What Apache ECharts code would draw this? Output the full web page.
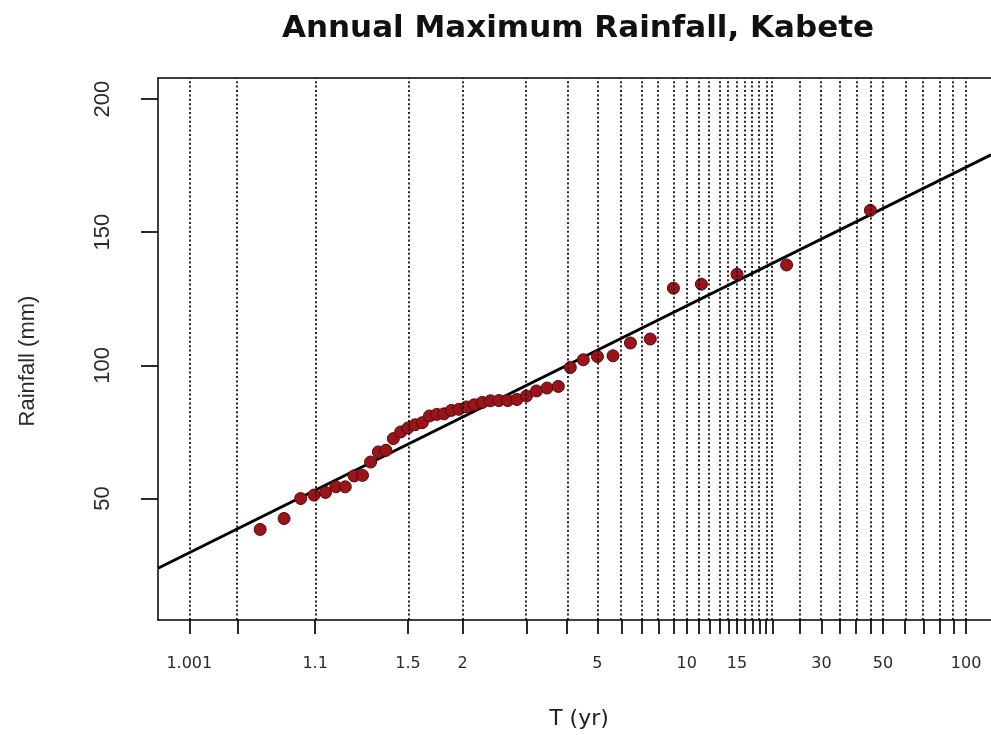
<!DOCTYPE html>
<html>
<head>
<meta charset="utf-8">
<title>Annual Maximum Rainfall, Kabete</title>
<script src="https://cdn.jsdelivr.net/npm/echarts@6/dist/echarts.min.js"></script>
<style>
  html, body { margin: 0; padding: 0; background: #fff; }
  #chart { width: 991px; height: 735px; }
</style>
</head>
<body>
<div id="chart"></div>
<script>
// Return periods (years) where vertical reference lines and ticks are drawn
const gridReturnPeriods = [1.001, 1.01, 1.1, 1.5, 2, 3, 4, 5, 6, 7, 8, 9, 10, 11, 12, 13, 14, 15,
  16, 17, 18, 19, 20, 25, 30, 35, 40, 45, 50, 60, 70, 80, 90, 100];
// Return periods that carry a text label on the T axis
const labelReturnPeriods = [1.001, 1.1, 1.5, 2, 5, 10, 15, 30, 50, 100];
// Rainfall axis labels (mm)
const rainfallTicks = [50, 100, 150, 200];
// Annual maximum daily rainfall (mm), sorted from smallest to largest
const annualMaxRainfall = [
  38.4, 42.5, 50.0, 51.3, 52.3, 54.4, 54.4, 58.5, 58.7, 63.7,
  67.5, 68.1, 72.5, 75.0, 76.5, 77.7, 78.5, 81.0, 81.6, 81.8,
  83.1, 83.5, 84.4, 85.2, 86.1, 86.7, 86.8, 86.8, 87.2, 88.5,
  90.4, 91.5, 92.1, 99.2, 102.1, 103.3, 103.6, 108.4, 109.9, 129.0,
  130.5, 134.2, 137.7, 158.2
];
// Fitted Gumbel (EV1) distribution: location u and scale alpha (mm)
const gumbelLocation = 72.5;
const gumbelScale = 22.16;

// Gumbel reduced variate for a return period T
function reducedVariate(T) {
  return -Math.log(-Math.log(1 - 1 / T));
}

// Horizontal extent of the plotting region, in reduced-variate units
const xMin = -2.196;
const xMax = 4.810;

// Weibull plotting positions: rank m (largest = 1) -> T = (n + 1) / m
const n = annualMaxRainfall.length;
const observed = annualMaxRainfall.map((v, i) => [reducedVariate((n + 1) / (n - i)), v]);

const fittedLine = [xMin, xMax].map(y => [y, gumbelLocation + gumbelScale * y]);

const labelPositions = labelReturnPeriods.map(reducedVariate);

const chart = echarts.init(document.getElementById('chart'), null, { renderer: 'canvas' });

chart.setOption({
  animation: false,
  backgroundColor: '#ffffff',
  textStyle: { fontFamily: 'Liberation Sans, Arial, sans-serif' },
  graphic: [{
    type: 'text',
    x: 578,
    y: 29,
    style: {
      text: 'Annual Maximum Rainfall, Kabete',
      font: 'bold 31px "DejaVu Sans", sans-serif',
      fill: '#111',
      textAlign: 'center',
      textVerticalAlign: 'middle'
    }
  }],
  grid: { left: 158, right: 0, top: 78, bottom: 113, containLabel: false },
  xAxis: [{
    type: 'value',
    min: xMin,
    max: xMax,
    position: 'bottom',
    axisLine: { show: true, onZero: false, lineStyle: { color: '#000', width: 1.5 } },
    axisTick: {
      show: true,
      customValues: gridReturnPeriods.map(reducedVariate),
      length: 14,
      lineStyle: { color: '#111', width: 1.8 }
    },
    axisLabel: {
      show: true,
      customValues: labelPositions,
      margin: 36,
      fontSize: 16,
      fontFamily: 'DejaVu Sans, sans-serif',
      color: '#2a2a2a',
      formatter: function (v) {
        for (let i = 0; i < labelPositions.length; i++) {
          if (Math.abs(labelPositions[i] - v) < 1e-6) return String(labelReturnPeriods[i]);
        }
        return '';
      }
    },
    splitLine: { show: false },
    name: 'T (yr)',
    nameLocation: 'middle',
    nameGap: 88,
    nameTextStyle: { fontSize: 22, color: '#222', fontFamily: 'DejaVu Sans, sans-serif', padding: [0, 0, 0, 9] }
  }, {
    type: 'value',
    min: xMin,
    max: xMax,
    position: 'top',
    axisLine: { show: true, onZero: false, lineStyle: { color: '#000', width: 1.5 } },
    axisTick: { show: false },
    axisLabel: { show: false },
    splitLine: { show: false }
  }],
  yAxis: {
    type: 'value',
    min: 4.4,
    max: 207.9,
    axisLine: { show: true, onZero: false, lineStyle: { color: '#000', width: 1.5 } },
    axisTick: {
      show: true,
      customValues: rainfallTicks,
      length: 17,
      lineStyle: { color: '#111', width: 1.8 }
    },
    axisLabel: {
      show: true,
      customValues: rainfallTicks,
      rotate: 90,
      margin: 44,
      fontSize: 22,
      color: '#2a2a2a'
    },
    splitLine: { show: false },
    name: 'Rainfall (mm)',
    nameLocation: 'middle',
    nameRotate: 90,
    nameGap: 119,
    nameTextStyle: { fontSize: 22, color: '#2a2a2a', padding: [0, 24, 0, 0] }
  },
  series: [
    {
      // fitted Gumbel line, with the return-period reference lines
      type: 'line',
      data: fittedLine,
      showSymbol: false,
      symbol: 'none',
      clip: true,
      lineStyle: { color: '#000', width: 3 },
      z: 3,
      silent: true,
      markLine: {
        silent: true,
        symbol: ['none', 'none'],
        label: { show: false },
        emphasis: { disabled: true },
        lineStyle: { color: '#000', width: 1.7, type: [2, 2.4] },
        data: gridReturnPeriods.map(T => ({ xAxis: reducedVariate(T) }))
      }
    },
    {
      // observed annual maxima
      type: 'scatter',
      data: observed,
      symbol: 'circle',
      symbolSize: 12,
      itemStyle: { color: '#9a1419', borderColor: '#4f0a0c', borderWidth: 1, opacity: 1 },
      z: 4
    }
  ]
});
</script>
</body>
</html>
